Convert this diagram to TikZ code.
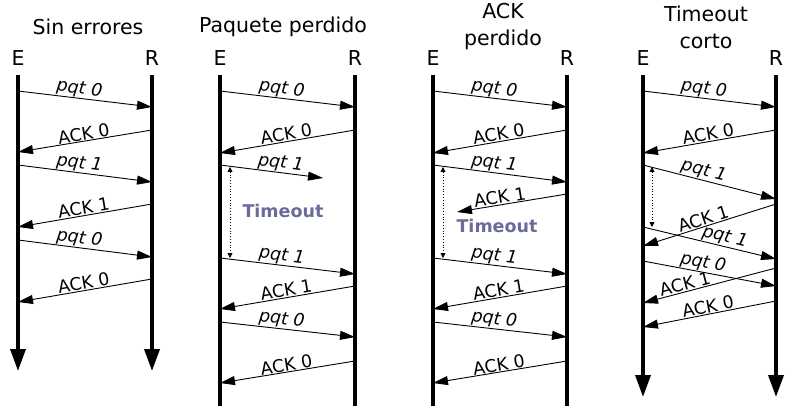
\documentclass[tikz,border=0pt]{standalone}
\usepackage{fontspec}
\setmainfont{DejaVu Sans}
\usepackage{tikz}
\usetikzlibrary{arrows.meta}
\definecolor{tmocol}{HTML}{6A6A9C}
\newcommand{\ttlfont}{\fontsize{20.5}{27}\selectfont}
\newcommand{\lblfont}{\fontsize{17.5}{19}\selectfont}

\begin{document}
\begin{tikzpicture}[
  x=1pt, y=-1pt,
  ttl/.style={align=center, font=\ttlfont},
  side/.style={font=\ttlfont},
  tline/.style={line width=3.5pt},
  tend/.style={tline, -{Triangle[length=22pt,width=15pt]}},
  msg/.style={line width=0.9pt, -{Triangle[length=15pt,width=9pt]}},
  lbl/.style={sloped, above, inner sep=0.5pt, font=\lblfont},
  plbl/.style={lbl, font=\lblfont\itshape},
  tmo/.style={dotted, line width=0.8pt,
              {Triangle[length=5pt,width=5pt]}-{Triangle[length=5pt,width=5pt]}},
  tmotxt/.style={font=\lblfont\bfseries, text=tmocol}
]
\useasboundingbox (0,0) rectangle (797,406);

% --- Sin errores
\node[ttl] (t1) at (88,27) {Sin errores};
\node[side] (e1) at (18,58) {E};
\node[side] (r1) at (152,58) {R};
\coordinate (e1top) at (18,75);  \coordinate (e1bot) at (18,371);
\coordinate (r1top) at (152,75); \coordinate (r1bot) at (152,371);
\draw[tend] (e1top) -- (e1bot);
\draw[tend] (r1top) -- (r1bot);

\coordinate (a1) at (18,91);   \coordinate (a2) at (152,107);
\coordinate (a3) at (152,130); \coordinate (a4) at (18,152);
\coordinate (a5) at (18,165);  \coordinate (a6) at (152,182);
\coordinate (a7) at (152,204); \coordinate (a8) at (18,227);
\coordinate (a9) at (18,240);  \coordinate (a10) at (152,257);
\coordinate (a11) at (152,279);\coordinate (a12) at (18,302);
\draw[msg] (a1) -- node[plbl, pos=.45] {pqt 0} (a2);
\draw[msg] (a3) -- node[lbl, pos=.5] {ACK 0} (a4);
\draw[msg] (a5) -- node[plbl, pos=.45] {pqt 1} (a6);
\draw[msg] (a7) -- node[lbl, pos=.5] {ACK 1} (a8);
\draw[msg] (a9) -- node[plbl, pos=.45] {pqt 0} (a10);
\draw[msg] (a11) -- node[lbl, pos=.5] {ACK 0} (a12);

% --- Paquete perdido
\node[ttl] (t2) at (283,27) {Paquete perdido};
\node[side] (e2) at (220,58) {E};
\node[side] (r2) at (355,58) {R};
\coordinate (e2top) at (220,75);  \coordinate (e2bot) at (220,410);
\coordinate (r2top) at (355,75);  \coordinate (r2bot) at (355,410);
\draw[tline] (e2top) -- (e2bot);
\draw[tline] (r2top) -- (r2bot);

\coordinate (b1) at (220,91);   \coordinate (b2) at (355,107);
\coordinate (b3) at (355,130);  \coordinate (b4) at (220,153);
\coordinate (b5) at (220,165);  \coordinate (b6) at (323,178);
\coordinate (b7) at (220,258);  \coordinate (b8) at (355,274);
\coordinate (b9) at (355,286);  \coordinate (b10) at (220,309);
\coordinate (b11) at (220,322); \coordinate (b12) at (355,337);
\coordinate (b13) at (355,361); \coordinate (b14) at (220,383);
\draw[msg] (b1) -- node[plbl, pos=.45] {pqt 0} (b2);
\draw[msg] (b3) -- node[lbl, pos=.5] {ACK 0} (b4);
\draw[msg] (b5) -- node[plbl, pos=.58] {pqt 1} (b6);
\draw[msg] (b7) -- node[plbl, pos=.45] {pqt 1} (b8);
\draw[msg] (b9) -- node[lbl, pos=.5] {ACK 1} (b10);
\draw[msg] (b11) -- node[plbl, pos=.45] {pqt 0} (b12);
\draw[msg] (b13) -- node[lbl, pos=.5] {ACK 0} (b14);
\coordinate (d2a) at (230,167); \coordinate (d2b) at (230,258);
\draw[tmo] (d2a) -- (d2b);
\node[tmotxt] (to2) at (283,211) {Timeout};

% --- ACK perdido
\node[ttl] (t3) at (503,27) {ACK\\perdido};
\node[side] (e3) at (433,58) {E};
\node[side] (r3) at (567,58) {R};
\coordinate (e3top) at (433,75);  \coordinate (e3bot) at (433,410);
\coordinate (r3top) at (567,75);  \coordinate (r3bot) at (567,410);
\draw[tline] (e3top) -- (e3bot);
\draw[tline] (r3top) -- (r3bot);

\coordinate (c1) at (433,91);   \coordinate (c2) at (567,107);
\coordinate (c3) at (567,130);  \coordinate (c4) at (433,153);
\coordinate (c5) at (433,165);  \coordinate (c6) at (567,182);
\coordinate (c7) at (567,194);  \coordinate (c8) at (457,212);
\coordinate (c9) at (433,258);  \coordinate (c10) at (567,274);
\coordinate (c11) at (567,286); \coordinate (c12) at (433,309);
\coordinate (c13) at (433,322); \coordinate (c14) at (567,337);
\coordinate (c15) at (567,361); \coordinate (c16) at (433,383);
\draw[msg] (c1) -- node[plbl, pos=.45] {pqt 0} (c2);
\draw[msg] (c3) -- node[lbl, pos=.5] {ACK 0} (c4);
\draw[msg] (c5) -- node[plbl, pos=.45] {pqt 1} (c6);
\draw[msg] (c7) -- node[lbl, pos=.6] {ACK 1} (c8);
\draw[msg] (c9) -- node[plbl, pos=.45] {pqt 1} (c10);
\draw[msg] (c11) -- node[lbl, pos=.5] {ACK 1} (c12);
\draw[msg] (c13) -- node[plbl, pos=.45] {pqt 0} (c14);
\draw[msg] (c15) -- node[lbl, pos=.5] {ACK 0} (c16);
\coordinate (d3a) at (443,167); \coordinate (d3b) at (443,258);
\draw[tmo] (d3a) -- (d3b);
\node[tmotxt] (to3) at (497,226) {Timeout};

% --- Timeout corto
\node[ttl] (t4) at (706,27) {Timeout\\corto};
\node[side] (e4) at (643,58) {E};
\node[side] (r4) at (776,58) {R};
\coordinate (e4top) at (643,75);  \coordinate (e4bot) at (643,397);
\coordinate (r4top) at (776,75);  \coordinate (r4bot) at (776,397);
\draw[tend] (e4top) -- (e4bot);
\draw[tend] (r4top) -- (r4bot);

\coordinate (f1) at (643,91);   \coordinate (f2) at (776,107);
\coordinate (f3) at (776,130);  \coordinate (f4) at (643,153);
\coordinate (f5) at (643,165);  \coordinate (f6) at (776,199);
\coordinate (f7) at (776,204);  \coordinate (f8) at (643,246);
\coordinate (f9) at (643,227);  \coordinate (f10) at (776,259);
\coordinate (f11) at (643,261); \coordinate (f12) at (776,286);
\coordinate (f13) at (776,268); \coordinate (f14) at (643,303);
\coordinate (f15) at (776,301); \coordinate (f16) at (643,327);
\draw[msg] (f1) -- node[plbl, pos=.45] {pqt 0} (f2);
\draw[msg] (f3) -- node[lbl, pos=.5] {ACK 0} (f4);
\draw[msg] (f5) -- node[plbl, pos=.44] {pqt 1} (f6);
\draw[msg] (f7) -- node[lbl, pos=.53] {ACK 1} (f8);
\draw[msg] (f9) -- node[plbl, pos=.6] {pqt 1} (f10);
\draw[msg] (f11) -- node[plbl, pos=.44] {pqt 0} (f12);
\draw[msg] (f13) -- node[lbl, pos=.67] {ACK 1} (f14);
\draw[msg] (f15) -- node[lbl, pos=.5] {ACK 0} (f16);
\coordinate (d4a) at (652,167); \coordinate (d4b) at (652,227);
\draw[tmo] (d4a) -- (d4b);
\end{tikzpicture}
\end{document}
